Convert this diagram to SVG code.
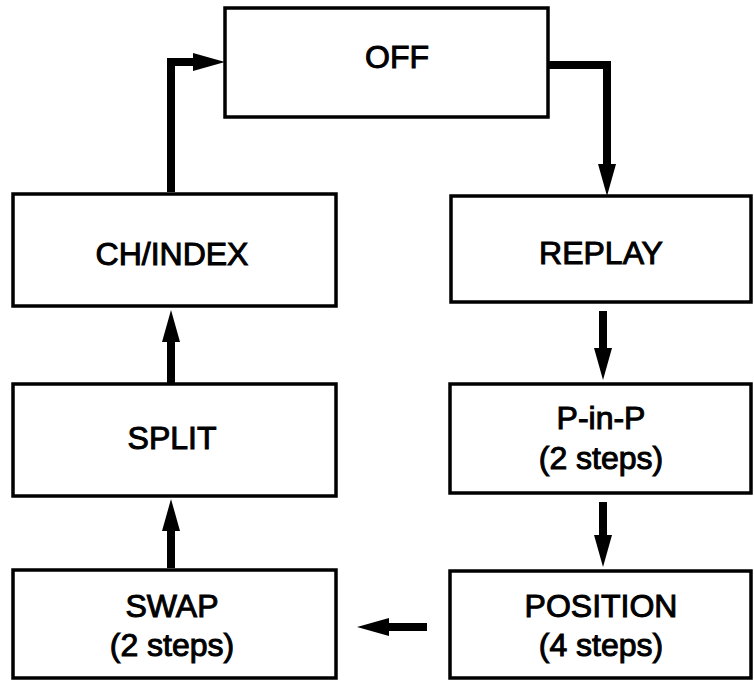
<svg xmlns="http://www.w3.org/2000/svg" width="754" height="684" viewBox="0 0 754 684">
<style>
.box{fill:#fff;stroke:#000;stroke-width:3.5}
.t{font-family:"Liberation Sans",Arial,sans-serif;font-size:32px;fill:#000;text-anchor:middle;stroke:#000;stroke-width:1}
.c{fill:none;stroke:#000;stroke-width:8;stroke-linejoin:miter}
</style>
<defs>
<marker id="ah" markerUnits="userSpaceOnUse" markerWidth="34" markerHeight="20" refX="10" refY="9" orient="auto">
<path d="M0,0 L32,9 L0,18 z" fill="#000"/>
</marker>
</defs>
<rect width="754" height="684" fill="#fff"/>
<g id="off"><rect class="box" x="225" y="8" width="323" height="109"/><text class="t" x="397" y="68">OFF</text></g>
<g id="chindex"><rect class="box" x="13" y="194" width="323" height="112"/><text class="t" x="172" y="265">CH/INDEX</text></g>
<g id="replay"><rect class="box" x="451" y="196" width="300" height="106"/><text class="t" x="601" y="264">REPLAY</text></g>
<g id="split"><rect class="box" x="13" y="384" width="323" height="112"/><text class="t" x="172" y="449">SPLIT</text></g>
<g id="pinp"><rect class="box" x="450" y="384" width="301" height="109"/><text class="t" x="601" y="429">P-in-P</text><text class="t" x="601" y="469">(2 steps)</text></g>
<g id="swap"><rect class="box" x="13" y="570" width="323" height="108"/><text class="t" x="172" y="617">SWAP</text><text class="t" x="172" y="656">(2 steps)</text></g>
<g id="position"><rect class="box" x="450" y="571" width="301" height="107"/><text class="t" x="601" y="617">POSITION</text><text class="t" x="601" y="656">(4 steps)</text></g>
<g id="connectors">
<path class="c" d="M171,192 V62 H203" marker-end="url(#ah)"/>
<path class="c" d="M548,65 H607 V174" marker-end="url(#ah)"/>
<path class="c" d="M603,311 V358" marker-end="url(#ah)"/>
<path class="c" d="M603,502 V545" marker-end="url(#ah)"/>
<path class="c" d="M427,627 H379" marker-end="url(#ah)"/>
<path class="c" d="M171,568 V521" marker-end="url(#ah)"/>
<path class="c" d="M171,383 V332" marker-end="url(#ah)"/>
</g>
</svg>
